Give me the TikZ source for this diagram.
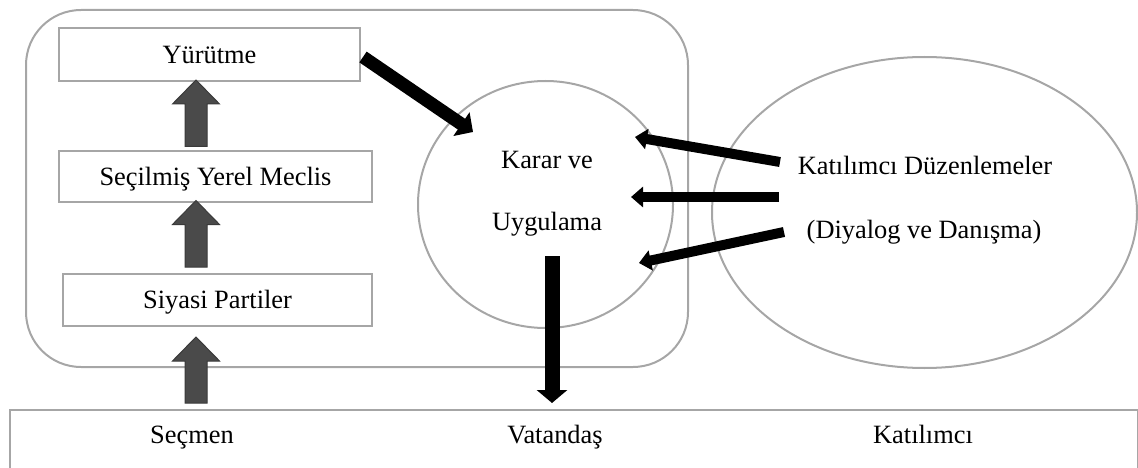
\documentclass[tikz,border=0pt]{standalone}
\usepackage{fontspec}
\setmainfont{Liberation Serif}
\usetikzlibrary{calc,shapes.geometric,arrows.meta}
\definecolor{boxgray}{HTML}{A6A6A6}
\definecolor{fatfill}{HTML}{4A4A4A}
\definecolor{fatedge}{HTML}{3A3A3A}
\tikzset{
  lbl/.style={font=\fontsize{26.4pt}{30pt}\selectfont, inner sep=0pt, anchor=base},
  framebox/.style={draw=boxgray, line width=2pt, rectangle, inner sep=0pt,
    font=\fontsize{26.4pt}{30pt}\selectfont, text height=17.5pt, text depth=0pt},
  oval/.style={draw=boxgray, line width=2pt, ellipse, inner sep=0pt},
  fat/.style={fill=fatfill, draw=fatedge, line width=1pt, line join=miter},
  blkthin/.style={draw=black, line width=10pt, -{Triangle[width=20pt,length=12pt]}},
  blkthick/.style={draw=black, line width=13pt, -{Triangle[width=28pt,length=14pt]}},
  blkdown/.style={draw=black, line width=15pt, -{Triangle[width=30pt,length=13pt]}},
}
\newcommand\fatup[2]{%
  \filldraw[fat] let \p1=#1, \p2=#2 in
    (\x1-11pt,\y1) -- (\x1-11pt,\y2-24pt) -- (\x1-23.5pt,\y2-24pt) -- (\x1,\y2)
    -- (\x1+23.5pt,\y2-24pt) -- (\x1+11pt,\y2-24pt) -- (\x1+11pt,\y1) -- cycle;}
\begin{document}
\begin{tikzpicture}[x=1pt,y=-1pt]
\useasboundingbox (0,0) rectangle (1138,468);
\clip (0,0) rectangle (1138,468);
% frames
\node[draw=boxgray, line width=2pt, rounded corners=55pt, minimum width=662pt,
      minimum height=357pt, anchor=north west, inner sep=0pt] (yerel) at (25,9) {};
\node[framebox, minimum width=301pt, minimum height=53pt] (yur) at (209.5,54.5) {Yürütme};
\node[framebox, minimum width=313pt, minimum height=50pt] (sec) at (215.5,176.5) {Seçilmiş Yerel Meclis};
\node[framebox, minimum width=309pt, minimum height=52pt] (sp) at (217.5,300) {Siyasi Partiler};
\node[oval, minimum width=255pt, minimum height=247pt] (kv) at (545.5,204.5) {};
\node[oval, minimum width=425pt, minimum height=311pt] (kd) at (924.5,212.5) {};
\node[framebox, minimum width=1128pt, minimum height=80pt, anchor=north west] (halk) at (9,409) {};
% texts
\node[lbl] (karar) at (547,168) {Karar ve};
\node[lbl] (uyg) at (547,230) {Uygulama};
\node[lbl] (katd) at (925,175) {Katılımcı Düzenlemeler};
\node[lbl] (diy) at (924,238) {(Diyalog ve Danışma)};
\node[lbl] (secmen) at (192,443) {Seçmen};
\node[lbl] (vat) at (555,443) {Vatandaş};
\node[lbl] (kat) at (923,443) {Katılımcı};
% grey block arrows
\coordinate (ax) at (196,0);
\fatup{($(ax |- sec.north)+(0,-4)$)}{($(ax |- yur.south)+(0,-2)$)}
\fatup{($(ax |- sp.north)+(0,-6)$)}{($(ax |- sec.south)+(0,-2)$)}
\fatup{($(ax |- halk.north)+(0,-6)$)}{($(ax |- sp.south)+(0,10)$)}
% black arrows
\draw[blkthick] ($(yur.east)+(2,2.5)$) -- ($(kv.center)+(-72.5,-72.5)$);
\draw[blkthin] ($(kd.center)+(-144.5,-50.5)$) -- ($(kv.center)+(89.5,-67.5)$);
\draw[blkthin] ($(kd.center)+(-145.5,-15.5)$) -- ($(kv.center)+(85.5,-7.5)$);
\draw[blkthin] ($(kd.center)+(-140.5,19.5)$) -- ($(kv.center)+(93.5,58.5)$);
\draw[blkdown] ($(kv.center)+(6.5,51.5)$) -- ($(kv.center |- halk.north)+(6.5,-6)$);
\end{tikzpicture}
\end{document}
